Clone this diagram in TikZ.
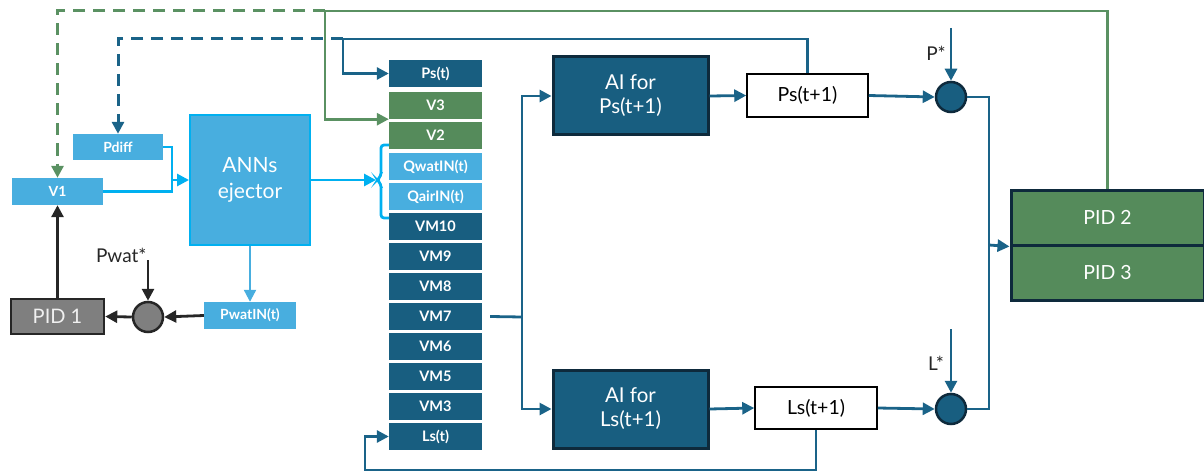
\documentclass[tikz,border=0pt]{standalone}
\usepackage{fontspec}
\setmainfont{Lato}
\usetikzlibrary{arrows.meta,calc}
\definecolor{dkb}{HTML}{185E80}
\definecolor{dkbline}{HTML}{1A6388}
\definecolor{grn}{HTML}{558B5B}
\definecolor{grnline}{HTML}{5A9162}
\definecolor{ltb}{HTML}{48AEDF}
\definecolor{cyanl}{HTML}{00B0F0}
\definecolor{navy}{HTML}{0E2A3C}
\definecolor{gry}{HTML}{7F7F7F}
\definecolor{blk}{HTML}{262626}
\begin{document}
\begin{tikzpicture}[x=1pt,y=-1pt,
  colbox/.style={minimum width=93pt,minimum height=27pt,inner sep=0pt,text=white,font=\bfseries\fontsize{14.5}{14.5}\selectfont},
  smallbox/.style={minimum height=27pt,inner sep=0pt,text=white,fill=ltb,font=\bfseries\fontsize{14}{14}\selectfont},
  aibox/.style={minimum width=155pt,minimum height=78pt,fill=dkb,draw=navy,line width=3pt,text=white,align=center,font=\fontsize{20.5}{24}\selectfont},
  outbox/.style={draw=black,line width=1.5pt,fill=white,inner sep=0pt,font=\fontsize{19.5}{19.5}\selectfont},
  pidbox/.style={minimum width=193pt,minimum height=55pt,fill=grn,draw=navy,line width=3pt,text=white,font=\fontsize{19.5}{19.5}\selectfont},
  sumb/.style={circle,minimum size=30pt,inner sep=0pt,fill=dkb,draw=navy,line width=2.5pt},
  lab/.style={font=\fontsize{19}{19}\selectfont,text=blk},
  tip/.style={-{Triangle[length=12pt,width=12pt]}},
  bl/.style={draw=dkbline,line width=2.8pt},
  gl/.style={draw=grnline,line width=2.8pt},
  cl/.style={draw=cyanl,line width=2.8pt},
  kl/.style={draw=blk,line width=2.8pt},
  dsh/.style={line width=3pt,dash pattern=on 12pt off 8pt}
]
\useasboundingbox (0,0) rectangle (1204,476);

% input column
\node[colbox,fill=dkb] (pst) at (435.5,73.5) {Ps(t)};
\node[colbox,fill=grn] (v3) at (435.5,105.5) {V3};
\node[colbox,fill=grn] (v2) at (435.5,135.5) {V2};
\node[colbox,fill=ltb] (qw) at (435.5,166.5) {QwatIN(t)};
\node[colbox,fill=ltb] (qa) at (435.5,196.5) {QairIN(t)};
\node[colbox,fill=dkb] (vm10) at (435.5,226.5) {VM10};
\node[colbox,fill=dkb] (vm9) at (435.5,256.5) {VM9};
\node[colbox,fill=dkb] (vm8) at (435.5,286.5) {VM8};
\node[colbox,fill=dkb] (vm7) at (435.5,316.5) {VM7};
\node[colbox,fill=dkb] (vm6) at (435.5,346.5) {VM6};
\node[colbox,fill=dkb] (vm5) at (435.5,376.5) {VM5};
\node[colbox,fill=dkb] (vm3) at (435.5,406.5) {VM3};
\node[colbox,fill=dkb] (lst) at (435.5,436.5) {Ls(t)};

% ejector part
\node[minimum width=120pt,minimum height=130pt,fill=ltb,draw=cyanl,line width=2pt,text=white,align=center,font=\fontsize{21}{26}\selectfont] (ann) at (250,180) {ANNs\\ejector};
\node[smallbox,minimum width=90pt,minimum height=26pt] (pdiff) at (118,147) {Pdiff};
\node[smallbox,minimum width=91pt] (v1) at (57.5,191.5) {V1};
\node[smallbox,minimum width=92pt] (pwin) at (250,315.5) {PwatIN(t)};
\node[circle,minimum size=30pt,inner sep=0pt,fill=gry,draw=blk,line width=2.5pt] (cg) at (148,317) {};
\node[minimum width=93pt,minimum height=35pt,fill=gry,draw=blk,line width=2.5pt,text=white!88!gray,font=\fontsize{20}{20}\selectfont] (pid1) at (57.5,316.5) {PID 1};
\coordinate (pwtop) at (148,260);
\node[lab,anchor=east] (pwl) at (150,255) {Pwat*};

% AI part
\node[aibox] (aip) at (630.5,96) {AI for\\Ps(t+1)};
\node[aibox] (ail) at (630.5,409) {AI for\\Ls(t+1)};
\node[outbox,minimum width=121pt,minimum height=43pt] (ps1) at (807.5,95.5) {Ps(t+1)};
\node[outbox,minimum width=122pt,minimum height=42pt] (ls1) at (816,408) {Ls(t+1)};
\node[sumb] (cP) at (951,97) {};
\node[sumb] (cL) at (951,409) {};
\coordinate (ptop) at (951,28);
\coordinate (ltop) at (951,329);
\node[lab] (pl) at (936,53) {P*};
\node[lab] (ll) at (936,363) {L*};
\node[pidbox] (pid2) at (1107.5,217.5) {PID 2};
\node[pidbox] (pid3) at (1107.5,272.5) {PID 3};

% coordinates
\coordinate (gtop) at (325,11);
\coordinate (btop) at (343,39);
\coordinate (aj) at (172,180);
\coordinate (vmj) at (522,317);
\coordinate (pidin) at (989,245);
\coordinate (lsb) at (365,470);

% green feedback
\draw[gl,tip] (pid2.north) |- (gtop) |- (v3.south west);
\draw[draw=grnline,dsh,tip] (gtop) -| (v1.north);
% blue feedback
\draw[bl,tip] (ps1.north) |- (btop) |- (pst.west);
\draw[draw=dkbline,dsh,tip] (btop) -| (pdiff.north);
\draw[bl,tip] (ls1.south) |- (lsb) |- (lst.west);

% ANN inputs/outputs
\draw[cl] (pdiff.east) -| (aj);
\draw[cl] (v1.east) -| (aj);
\draw[cl,tip] (aj) -- (ann.west);
\coordinate (brk) at (377,180);
\draw[cl,tip,shorten >=1pt] (ann.east) -- (brk);
\draw[cl,rounded corners=3pt] (389,145) -- (381,145) -- (381,176) -- (brk) -- (381,184) -- (381,218) -- (389,218);
\draw[draw=ltb,line width=2.2pt,tip] (ann.south) -- (pwin.north);
\draw[kl,tip] (pwin.west) -- (cg.east);
\draw[kl,tip] (pwtop) -- (cg.north);
\draw[kl,tip] (cg.west) -- (pid1.east);
\draw[kl,tip] (pid1.north) -- (v1.south);

% AI connections
\draw[bl] ([xshift=8pt]vm7.east) -- (vmj);
\draw[bl,tip] (vmj) |- (aip.west);
\draw[bl,tip] (vmj) |- (ail.west);
\draw[bl,tip] (aip.east) -- (ps1.west);
\draw[bl,tip] (ail.east) -- (ls1.west);
\draw[bl,tip] (ps1.east) -- (cP.west);
\draw[bl,tip] (ls1.east) -- (cL.west);
\draw[bl,tip] (ptop) -- (cP.north);
\draw[bl,tip] (ltop) -- (cL.north);
\draw[bl] (cP.east) -| (pidin);
\draw[bl] (cL.east) -| (pidin);
\draw[bl,tip] (pidin) -- (pid2.south west);
\end{tikzpicture}
\end{document}
